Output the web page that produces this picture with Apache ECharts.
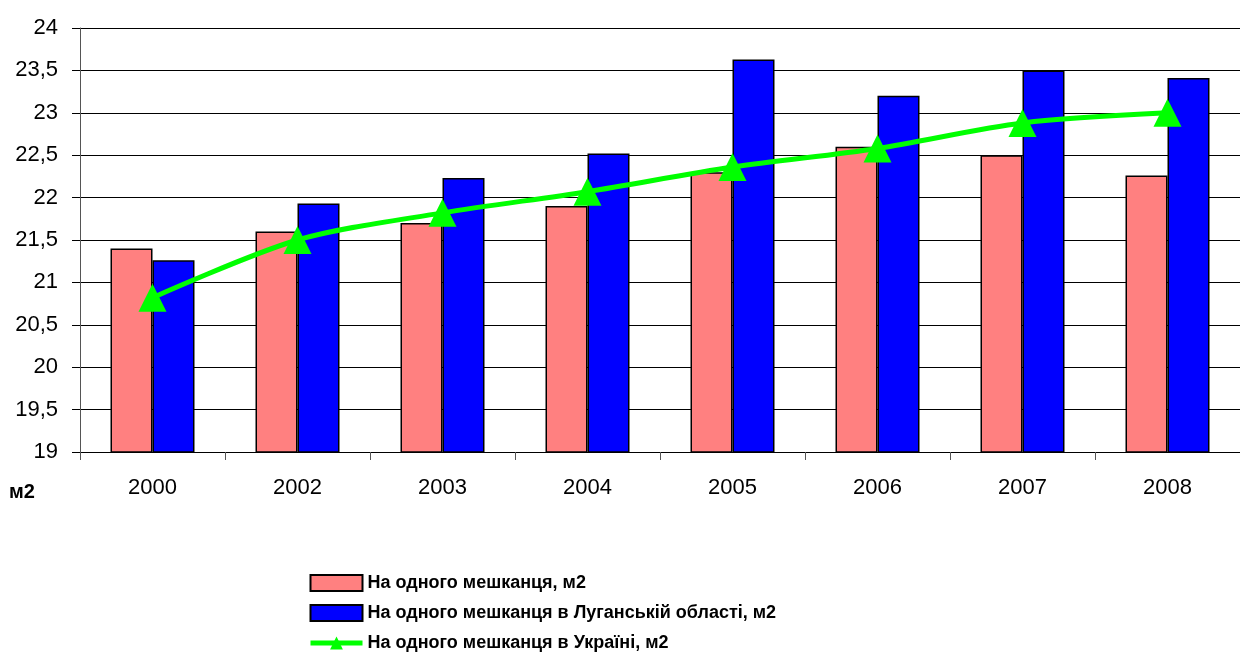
<!DOCTYPE html>
<html>
<head>
<meta charset="utf-8">
<script src="https://cdn.jsdelivr.net/npm/echarts@6/dist/echarts.min.js"></script>
<style>
html, body { margin: 0; padding: 0; background: #fff; }
#chart { width: 1240px; height: 655px; }
</style>
</head>
<body>
<div id="chart"></div>
<script>
var years = ['2000', '2002', '2003', '2004', '2005', '2006', '2007', '2008'];
var perPerson = [21.4, 21.6, 21.7, 21.9, 22.3, 22.6, 22.5, 22.26];
var perPersonLuhansk = [21.26, 21.93, 22.23, 22.52, 23.63, 23.2, 23.5, 23.41];
var perPersonUkraine = [20.82, 21.5, 21.82, 22.07, 22.36, 22.58, 22.88, 23.0];

var names = [
	'На одного мешканця, м2',
	'На одного мешканця в Луганській області, м2',
	'На одного мешканця в Україні, м2'
];

var font = '"Liberation Sans", Arial, sans-serif';

var chart = echarts.init(document.getElementById('chart'));
chart.setOption({
	animation: false,
	backgroundColor: '#fff',
	grid: {
		left: 80,
		top: 28,
		width: 1166,
		height: 424
	},
	legend: {
		orient: 'vertical',
		left: 303,
		top: 568,
		height: 200,
		itemWidth: 52,
		itemHeight: 16,
		itemGap: 10,
		data: [
			{ name: names[0], icon: 'rect' },
			{ name: names[1], icon: 'rect' },
			{ name: names[2], lineStyle: { width: 5 } }
		],
		textStyle: {
			fontFamily: font,
			fontSize: 18,
			fontWeight: 'bold',
			color: '#000',
			lineHeight: 20
		}
	},
	graphic: [{
		type: 'text',
		left: 9,
		top: 482,
		style: {
			text: 'м2',
			font: 'bold 20px ' + font,
			fill: '#000'
		}
	}],
	xAxis: {
		type: 'category',
		data: years,
		axisLine: { lineStyle: { color: '#000', width: 1 } },
		axisTick: { show: true, length: 8, lineStyle: { color: '#555' } },
		axisLabel: { margin: 25, fontFamily: font, fontSize: 22, color: '#000' }
	},
	yAxis: {
		type: 'value',
		min: 19,
		max: 24,
		interval: 0.5,
		axisLine: { show: true, lineStyle: { color: '#555', width: 1 } },
		axisTick: { show: true, length: 8, lineStyle: { color: '#000' } },
		splitLine: { lineStyle: { color: '#000', width: 1 } },
		axisLabel: {
			margin: 22,
			fontFamily: font,
			fontSize: 22,
			color: '#000',
			formatter: function(v) { return String(v).replace('.', ','); }
		}
	},
	series: [{
		name: names[0],
		type: 'bar',
		data: perPerson,
		barWidth: 42,
		barGap: '0%',
		itemStyle: { color: '#ff8080', borderColor: '#000', borderWidth: 1.5 }
	}, {
		name: names[1],
		type: 'bar',
		data: perPersonLuhansk,
		barWidth: 42,
		barGap: '0%',
		itemStyle: { color: '#0000ff', borderColor: '#000', borderWidth: 1.5 }
	}, {
		name: names[2],
		type: 'line',
		data: perPersonUkraine,
		smooth: 0.3,
		symbol: 'triangle',
		symbolSize: 28,
		z: 5,
		lineStyle: { color: '#00ff00', width: 5 },
		itemStyle: { color: '#00ff00', borderWidth: 0 }
	}]
});
</script>
</body>
</html>
